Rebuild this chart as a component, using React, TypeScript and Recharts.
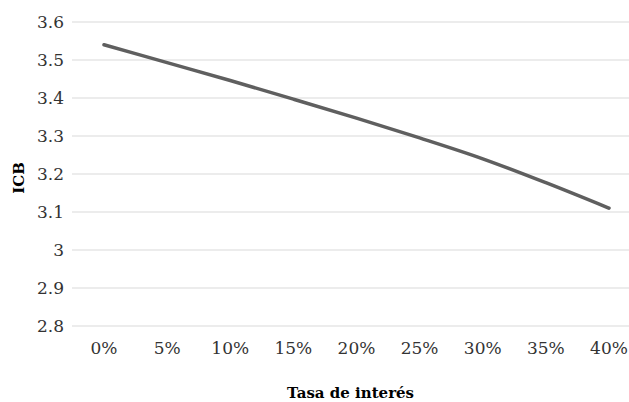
import { LineChart, Line, XAxis, YAxis, CartesianGrid, Label } from "recharts";

const rates = ["0%", "5%", "10%", "15%", "20%", "25%", "30%", "35%", "40%"];
const icb = [3.54, 3.493, 3.446, 3.397, 3.347, 3.295, 3.24, 3.177, 3.11];
const yTicks = [2.8, 2.9, 3, 3.1, 3.2, 3.3, 3.4, 3.5, 3.6];

const data = rates.map((r, i) => ({ rate: r, icb: icb[i] }));

const FONT = "'DejaVu Serif', serif";

export default function App() {
  return (
    <div style={{ position: "absolute", left: 0, top: 0, background: "#fff" }}>
      <LineChart width={629} height={402} data={data} margin={{ top: 22, right: 0, left: 0, bottom: 0 }}>
        <CartesianGrid vertical={false} stroke="#d9d9d9" strokeWidth={1.2} />
        <XAxis
          dataKey="rate"
          axisLine={false}
          tickLine={false}
          height={76}
          tickMargin={10}
          padding={{ left: 32, right: 20 }}
          interval={0}
          tick={{ fill: "#333", fontSize: 17, fontFamily: FONT }}
        >
          <Label
            value="Tasa de interés"
            position="insideBottom"
            offset={4}
            style={{ fill: "#000", fontSize: 15, fontWeight: "bold", fontFamily: FONT }}
          />
        </XAxis>
        <YAxis
          domain={[2.8, 3.6]}
          ticks={yTicks}
          axisLine={false}
          tickLine={false}
          width={72}
          tick={{ fill: "#333", fontSize: 17, fontFamily: FONT }}
        >
          <Label
            content={({ viewBox }: any) => {
              const cx = 19;
              const cy = viewBox.y + viewBox.height / 2 + 4;
              return (
                <text
                  x={cx}
                  y={cy}
                  transform={`rotate(-90, ${cx}, ${cy})`}
                  textAnchor="middle"
                  dominantBaseline="central"
                  style={{ fill: "#000", fontSize: 15, fontWeight: "bold", fontFamily: FONT }}
                >
                  ICB
                </text>
              );
            }}
          />
        </YAxis>
        <Line
          type="monotone"
          dataKey="icb"
          stroke="#5f5f5f"
          strokeWidth={3.5}
          dot={false}
          strokeLinecap="round"
          isAnimationActive={false}
        />
      </LineChart>
    </div>
  );
}
